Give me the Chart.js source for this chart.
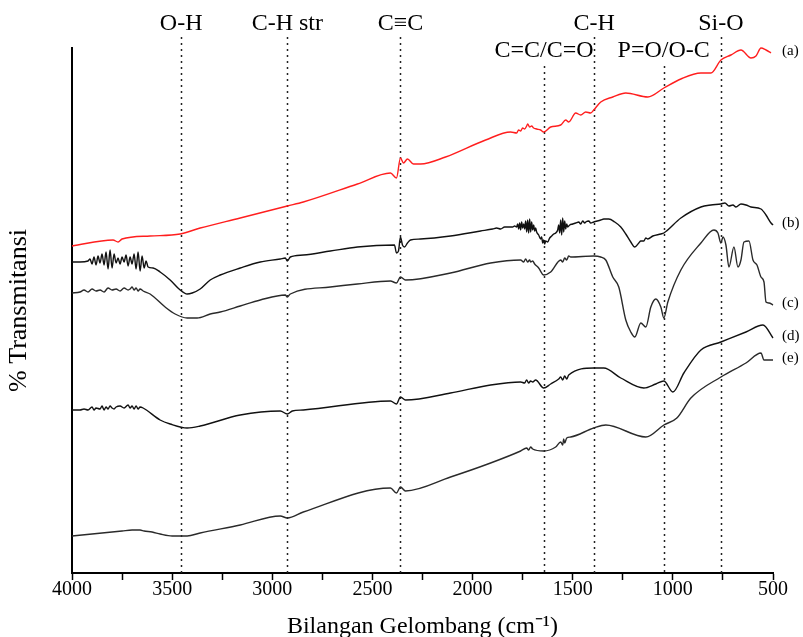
<!DOCTYPE html>
<html>
<head>
<meta charset="utf-8">
<script src="https://cdn.jsdelivr.net/npm/chart.js@4.4.0/dist/chart.umd.min.js"></script>
<style>
  body { margin: 0; background: #fff; }
</style>
</head>
<body>
<canvas id="graph_ftir" width="803" height="637"></canvas>
<script>
/*------------------------------*/
/*     DONNEES DES SPECTRES      */
/*------------------------------*/
var seriesNames = ['(a)', '(b)', '(c)', '(d)', '(e)']

var wn_a = [4000, 3795, 3770, 3750, 3610, 3460, 3360, 3160, 2925, 2845, 2575, 2410, 2380, 2360, 2345, 2325, 2295, 2260, 2135, 1935,
  1810, 1780, 1770, 1760, 1750, 1740, 1730, 1725, 1715, 1705, 1695, 1680, 1660, 1645, 1610, 1560, 1535, 1520, 1485, 1460,
  1435, 1410, 1395, 1360, 1300, 1235, 1125, 1045, 960, 860, 810, 760, 710, 660, 610, 585, 560, 535, 510]
var t_a = [327, 333, 331, 334, 337, 339, 345, 355, 367, 371, 389, 400, 395, 415, 410, 414, 409, 409, 416, 433,
  441, 440, 443, 442, 445, 444, 447, 449, 446, 447, 445, 444, 443, 441, 446, 448, 453, 451, 460, 458,
  461, 460, 463, 471, 476, 480, 476, 485, 494, 500, 500, 513, 518, 523, 515, 517, 525, 523, 520]

var wn_b = [4000, 3960, 3920, 3910, 3900, 3890, 3880, 3870, 3860, 3850, 3840, 3830, 3820, 3810, 3800, 3790, 3780, 3770, 3760, 3750,
  3740, 3730, 3720, 3710, 3700, 3690, 3680, 3670, 3660, 3650, 3640, 3630, 3620, 3595, 3560, 3510, 3460, 3425, 3400, 3360,
  3310, 3260, 3160, 3060, 2960, 2935, 2925, 2910, 2845, 2710, 2575, 2390, 2380, 2370, 2360, 2350, 2340, 2325, 2310, 2260,
  2110, 1960, 1900, 1880, 1860, 1840, 1820, 1800, 1790, 1780, 1775, 1770, 1765, 1760, 1755, 1750, 1745, 1740, 1735, 1730,
  1725, 1720, 1715, 1710, 1705, 1700, 1695, 1690, 1685, 1680, 1670, 1660, 1655, 1650, 1645, 1640, 1635, 1625, 1615, 1605,
  1595, 1585, 1575, 1570, 1565, 1560, 1555, 1550, 1545, 1540, 1535, 1530, 1525, 1515, 1500, 1485, 1470, 1460, 1450, 1440,
  1435, 1420, 1410, 1395, 1360, 1345, 1320, 1290, 1260, 1235, 1210, 1190, 1170, 1160, 1145, 1135, 1125, 1100, 1060, 1045,
  960, 860, 810, 760, 740, 720, 700, 685, 660, 635, 610, 560, 535, 510, 500]
var t_b = [311, 311, 312, 314, 309, 316, 308, 317, 310, 319, 308, 321, 304, 323, 305, 319, 310, 315, 309, 316,
  311, 318, 307, 316, 309, 319, 304, 321, 302, 317, 305, 312, 306, 305, 301, 293, 283, 279, 280, 284,
  293, 298, 305, 311, 314, 315, 312, 316, 318, 322, 326, 328, 320, 322, 336, 328, 326, 330, 333, 334,
  337, 342, 344, 345, 344, 346, 346, 346, 347, 346, 349, 344, 350, 343, 351, 345, 349, 344, 352, 341,
  353, 340, 354, 341, 351, 343, 348, 342, 345, 341, 338, 334, 336, 330, 333, 329, 332, 331, 335, 337,
  339, 340, 343, 348, 340, 353, 338, 355, 341, 352, 344, 349, 346, 348, 349, 350, 351, 349, 352, 350,
  351, 352, 350, 351, 353, 354, 354, 351, 346, 339, 331, 326, 330, 332, 332, 335, 334, 337, 339, 340,
  355, 366, 368, 369, 370, 367, 368, 366, 369, 368, 366, 364, 358, 350, 348]

var wn_c = [4000, 3960, 3940, 3920, 3900, 3880, 3860, 3840, 3820, 3800, 3780, 3760, 3740, 3720, 3710, 3700, 3690, 3680, 3670, 3660,
  3645, 3610, 3535, 3485, 3425, 3375, 3310, 3260, 3160, 3060, 2935, 2925, 2910, 2710, 2575, 2410, 2380, 2360, 2335, 2110,
  1910, 1760, 1745, 1735, 1725, 1715, 1710, 1700, 1690, 1670, 1645, 1610, 1560, 1550, 1540, 1530, 1520, 1510, 1395, 1360,
  1335, 1300, 1270, 1235, 1210, 1190, 1160, 1135, 1110, 1085, 1060, 1045, 1025, 960, 860, 795, 775, 760, 750, 735,
  720, 695, 675, 660, 645, 620, 600, 580, 560, 545, 535, 520, 500]
var t_c = [280, 281, 283, 281, 284, 282, 283, 281, 285, 283, 284, 282, 285, 283, 284, 286, 283, 285, 282, 284,
  282, 279, 266, 259, 255, 255, 259, 261, 267, 273, 278, 276, 279, 286, 289, 292, 290, 296, 293, 300,
  310, 313, 311, 314, 311, 313, 311, 312, 309, 305, 298, 301, 313, 311, 315, 313, 317, 316, 317, 316,
  313, 296, 286, 253, 241, 236, 250, 246, 266, 274, 266, 255, 271, 303, 330, 343, 340, 330, 336, 328,
  306, 326, 306, 313, 331, 332, 313, 308, 296, 291, 271, 270, 268]

var wn_d = [4000, 3960, 3940, 3920, 3900, 3890, 3880, 3860, 3850, 3840, 3830, 3820, 3810, 3800, 3790, 3780, 3760, 3740, 3720, 3710,
  3700, 3690, 3680, 3670, 3660, 3645, 3560, 3510, 3425, 3360, 3160, 2960, 2925, 2900, 2845, 2410, 2380, 2360, 2335, 2110,
  1910, 1760, 1740, 1730, 1720, 1710, 1700, 1685, 1645, 1610, 1570, 1560, 1550, 1540, 1530, 1520, 1395, 1345, 1260, 1145,
  1085, 1045, 1000, 945, 860, 760, 635, 550, 500]
var t_d = [163, 163, 164, 163, 166, 163, 165, 164, 167, 163, 166, 164, 167, 165, 164, 166, 167, 165, 168, 165,
  167, 164, 167, 164, 166, 165, 153, 149, 145, 147, 158, 162, 159, 162, 163, 172, 169, 176, 173, 180,
  188, 191, 190, 193, 190, 192, 191, 193, 185, 189, 194, 196, 193, 197, 194, 198, 205, 205, 195, 185,
  189, 192, 181, 200, 223, 231, 241, 248, 235]

var wn_e = [4000, 3900, 3800, 3750, 3700, 3680, 3660, 3640, 3600, 3560, 3500, 3425, 3360, 3160, 2960, 2925, 2845, 2410, 2380, 2360,
  2335, 2110, 1910, 1760, 1730, 1720, 1710, 1700, 1645, 1585, 1560, 1550, 1545, 1540, 1530, 1510, 1395, 1335, 1135, 1045,
  980, 910, 760, 635, 560, 545, 500]
var t_e = [37, 39, 41, 42, 43, 43, 43, 42, 41, 39, 37, 37, 40, 48, 57, 55, 61, 85, 80, 86,
  82, 96, 110, 122, 125, 123, 126, 124, 122, 126, 131, 128, 134, 130, 135, 136, 145, 148, 136, 148,
  155, 175, 196, 210, 220, 213, 213]

/* bandes d'absorption */
var bandNames = ['O-H', 'C-H str', 'C\u2261C', 'C=C/C=O', 'C-H', 'P=O/O-C', 'Si-O']
var bandWn = [3455, 2925, 2360, 1643, 1393, 1046, 760]
var bandRow = [0, 0, 0, 1, 0, 1, 0]

/* axe x */
var xMin = 500
var xMax = 4000
var xStep = 250
var xLabelStep = 500

/*------------------------------*/
/*          GRAPHIQUE            */
/*------------------------------*/
function toPoints(wn, t) {
  return wn.map(function (w, i) { return { x: w, y: t[i] } })
}

var serif = "'Liberation Serif', 'Times New Roman', serif"
var allWn = [wn_a, wn_b, wn_c, wn_d, wn_e]
var allT = [t_a, t_b, t_c, t_d, t_e]
var colors = ['rgb(255, 30, 30)', '#111', '#2a2a2a', '#111', '#2a2a2a']

var datasets = allWn.map(function (wn, i) {
  return {
    label: seriesNames[i],
    data: toPoints(wn, allT[i]),
    borderColor: colors[i],
    borderWidth: 1.4,
    fill: false,
    pointRadius: 0,
    cubicInterpolationMode: 'monotone',
    clip: false
  }
})

var bandPlugin = {
  id: 'bands',
  beforeDatasetsDraw: function (chart) {
    var c = chart.ctx, xs = chart.scales.x, area = chart.chartArea
    c.save()
    c.strokeStyle = '#222'
    c.lineWidth = 1.5
    c.setLineDash([2, 4])
    for (var i = 0; i < bandWn.length; i++) {
      var px = Math.round(xs.getPixelForValue(bandWn[i])) + 0.5
      c.beginPath()
      c.moveTo(px, bandRow[i] ? 66 : 37)
      c.lineTo(px, area.bottom)
      c.stroke()
    }
    c.restore()
  },
  afterDraw: function (chart) {
    var c = chart.ctx, xs = chart.scales.x, ys = chart.scales.y, area = chart.chartArea
    c.save()
    c.fillStyle = '#000'
    c.textBaseline = 'middle'
    c.textAlign = 'center'
    c.font = '24px ' + serif
    for (var i = 0; i < bandNames.length; i++) {
      c.fillText(bandNames[i], xs.getPixelForValue(bandWn[i]), bandRow[i] ? 51 : 24)
    }
    // noms des courbes
    c.textAlign = 'left'
    c.font = '15px ' + serif
    for (var j = 0; j < seriesNames.length; j++) {
      var t = allT[j]
      c.fillText(seriesNames[j], area.right + 9, ys.getPixelForValue(t[t.length - 1]) - 2)
    }
    c.restore()
  }
}

var ctx_ftir = document.getElementById('graph_ftir').getContext('2d')
var graph_ftir = new Chart(ctx_ftir, {
  type: 'line',
  data: { datasets: datasets },
  options: {
    responsive: false,
    animation: false,
    layout: { padding: { top: 48, right: 30, left: 0, bottom: 0 } },
    plugins: { legend: { display: false }, tooltip: { enabled: false } },
    scales: {
      x: {
        type: 'linear',
        reverse: true,
        min: xMin,
        max: xMax,
        afterFit: function (s) { s.height = 64 },
        ticks: {
          stepSize: xStep,
          autoSkip: false,
          maxRotation: 0,
          padding: 0,
          color: '#000',
          font: { family: serif, size: 20, lineHeight: 1 },
          callback: function (v) { return v % xLabelStep === 0 ? String(v) : '' }
        },
        grid: { drawOnChartArea: false, drawTicks: true, tickLength: 7, tickColor: '#000', tickWidth: 1.5 },
        border: { display: true, color: '#000', width: 2 },
        title: {
          display: true,
          text: 'Bilangan Gelombang (cm\u207B\u00B9)',
          color: '#000',
          padding: { top: 0, bottom: 0 },
          font: { family: serif, size: 24, lineHeight: 0.84 }
        }
      },
      y: {
        min: 0,
        max: 525,
        afterFit: function (s) { s.width = 72 },
        ticks: { display: false },
        grid: { display: false },
        border: { display: true, color: '#000', width: 2 },
        title: {
          display: true,
          text: '% Transmitansi',
          color: '#000',
          padding: { top: 6, bottom: 0 },
          font: { family: serif, size: 26, lineHeight: 1 }
        }
      }
    }
  },
  plugins: [bandPlugin]
})
/*------------------------------*/
/*------------------------------*/
</script>
</body>
</html>
